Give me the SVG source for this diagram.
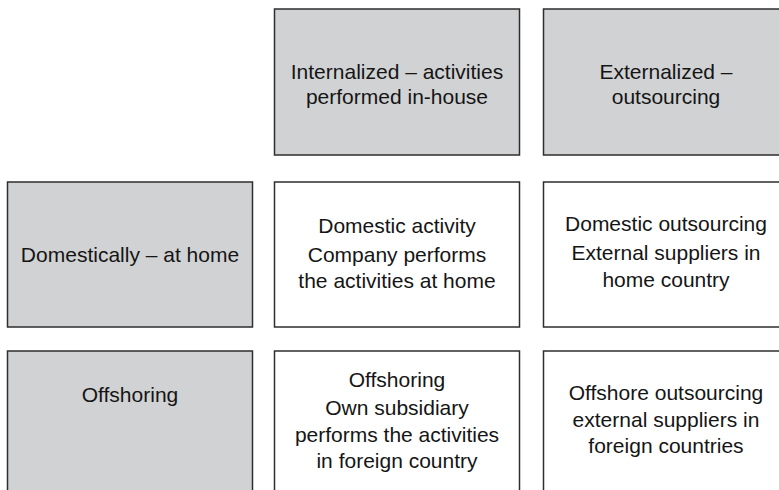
<svg xmlns="http://www.w3.org/2000/svg" width="779" height="490" viewBox="0 0 779 490">
<style>
.hdr{fill:#d1d2d4;stroke:#2e2e2e;stroke-width:1.5}
.cell{fill:#ffffff;stroke:#2e2e2e;stroke-width:1.5}
text{font-family:"Liberation Sans",Arial,sans-serif;font-size:21px;fill:#151515;text-anchor:middle}
</style>
<rect width="779" height="490" fill="#ffffff"/>
<g id="col-internal">
<rect class="hdr" x="274.5" y="9" width="245" height="146"/>
<text x="397" y="79">Internalized – activities</text>
<text x="397" y="104">performed in-house</text>
</g>
<g id="col-external">
<rect class="hdr" x="543.5" y="9" width="245" height="146"/>
<text x="666" y="79">Externalized –</text>
<text x="666" y="104">outsourcing</text>
</g>
<g id="row-domestic">
<rect class="hdr" x="7.5" y="182" width="245" height="145"/>
<text x="130" y="262">Domestically – at home</text>
</g>
<g id="cell-domestic-activity">
<rect class="cell" x="274.5" y="182" width="245" height="145"/>
<text x="397" y="233">Domestic activity</text>
<text x="397" y="262">Company performs</text>
<text x="397" y="288">the activities at home</text>
</g>
<g id="cell-domestic-outsourcing">
<rect class="cell" x="543.5" y="182" width="245" height="145"/>
<text x="666" y="231">Domestic outsourcing</text>
<text x="666" y="260">External suppliers in</text>
<text x="666" y="287">home country</text>
</g>
<g id="row-offshoring">
<rect class="hdr" x="7.5" y="351" width="245" height="150"/>
<text x="130" y="402">Offshoring</text>
</g>
<g id="cell-offshoring">
<rect class="cell" x="274.5" y="351" width="245" height="150"/>
<text x="397" y="387">Offshoring</text>
<text x="397" y="415">Own subsidiary</text>
<text x="397" y="442">performs the activities</text>
<text x="397" y="468">in foreign country</text>
</g>
<g id="cell-offshore-outsourcing">
<rect class="cell" x="543.5" y="351" width="245" height="150"/>
<text x="666" y="400">Offshore outsourcing</text>
<text x="666" y="427">external suppliers in</text>
<text x="666" y="453">foreign countries</text>
</g>
<g id="connectors"/>
</svg>
